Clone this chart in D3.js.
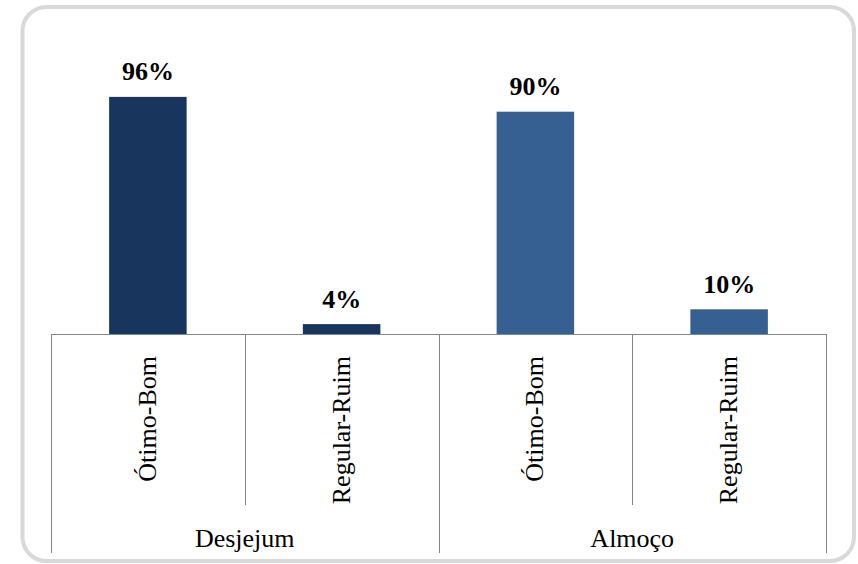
<!DOCTYPE html>
<html>
<head>
<meta charset="utf-8">
<script src="https://cdn.jsdelivr.net/npm/d3@7"></script>
<style>
  html, body { margin: 0; padding: 0; background: #ffffff; }
  svg { display: block; font-family: "Liberation Serif", "Times New Roman", serif; }
  svg text { font-family: "Liberation Serif", "Times New Roman", serif; font-size: 26px; fill: #000000; }
</style>
</head>
<body>
<svg id="chart" width="858" height="564" font-family="Liberation Serif"></svg>
<script>
// Meal groups and rating categories
const groups = ["Desjejum", "Almoço"];
const categories = ["Ótimo-Bom", "Regular-Ruim"];
const desjejumValues = [96, 4];
const almocoValues = [90, 10];
const groupColors = ["#18365d", "#366092"];

const rows = [];
[desjejumValues, almocoValues].forEach((vals, gi) => {
  vals.forEach((v, ci) => {
    rows.push({ key: gi + "-" + ci, group: groups[gi], gi, category: categories[ci], value: v });
  });
});

const svg = d3.select("#chart");
const serif = "Liberation Serif";

// Rounded frame around the chart
svg.append("rect")
  .attr("x", 22.5).attr("y", 7)
  .attr("width", 831.5).attr("height", 554)
  .attr("rx", 24).attr("ry", 24)
  .attr("fill", "#ffffff")
  .attr("stroke", "#d9d9d9")
  .attr("stroke-width", 4);

const left = 51, right = 826, baseY = 334;

const x = d3.scaleBand()
  .domain(rows.map(d => d.key))
  .range([left, right])
  .paddingInner(0).paddingOuter(0);

const y = d3.scaleLinear().domain([0, 100]).range([baseY, 87]);

const barW = x.bandwidth() * 0.4;

// Bars
svg.append("g").selectAll("rect")
  .data(rows)
  .join("rect")
  .attr("x", d => x(d.key) + (x.bandwidth() - barW) / 2)
  .attr("y", d => y(d.value))
  .attr("width", barW)
  .attr("height", d => y(0) - y(d.value))
  .attr("fill", d => groupColors[d.gi]);

// Value labels
svg.append("g").selectAll("text")
  .data(rows)
  .join("text")
  .style("font-family", serif)
  .style("font-size", "26px")
  .style("font-weight", "bold")
  .attr("x", d => x(d.key) + x.bandwidth() / 2)
  .attr("y", d => y(d.value) - 16.5)
  .attr("text-anchor", "middle")
  .text(d => d.value + "%");

// Category axis: baseline and dividers
const axisColor = "#868686";
const ax = svg.append("g").attr("stroke", axisColor).attr("stroke-width", 1).attr("shape-rendering", "crispEdges");
ax.append("line").attr("x1", left).attr("x2", right).attr("y1", baseY).attr("y2", baseY);

// Inner dividers between categories inside each group
const groupBands = d3.scaleBand().domain(groups).range([left, right]);
groups.forEach(g => {
  const mid = groupBands(g) + groupBands.bandwidth() / 2;
  ax.append("line").attr("x1", Math.round(mid) + 0.5).attr("x2", Math.round(mid) + 0.5)
    .attr("y1", baseY).attr("y2", 505);
});
// Outer dividers between groups
const edges = [left, ...groups.map(g => groupBands(g) + groupBands.bandwidth())];
edges.forEach(e => {
  ax.append("line").attr("x1", Math.round(e) + 0.5).attr("x2", Math.round(e) + 0.5)
    .attr("y1", baseY).attr("y2", 553);
});

// Rotated category labels
svg.append("g").selectAll("text")
  .data(rows)
  .join("text")
  .style("font-family", serif)
  .style("font-size", "26px")
  .attr("transform", d => `translate(${x(d.key) + x.bandwidth() / 2 + 8},356) rotate(-90)`)
  .attr("text-anchor", "end")
  .text(d => d.category);

// Group labels
svg.append("g").selectAll("text")
  .data(groups)
  .join("text")
  .style("font-family", serif)
  .style("font-size", "26px")
  .attr("x", g => groupBands(g) + groupBands.bandwidth() / 2)
  .attr("y", 547)
  .attr("text-anchor", "middle")
  .text(g => g);
</script>
</body>
</html>
